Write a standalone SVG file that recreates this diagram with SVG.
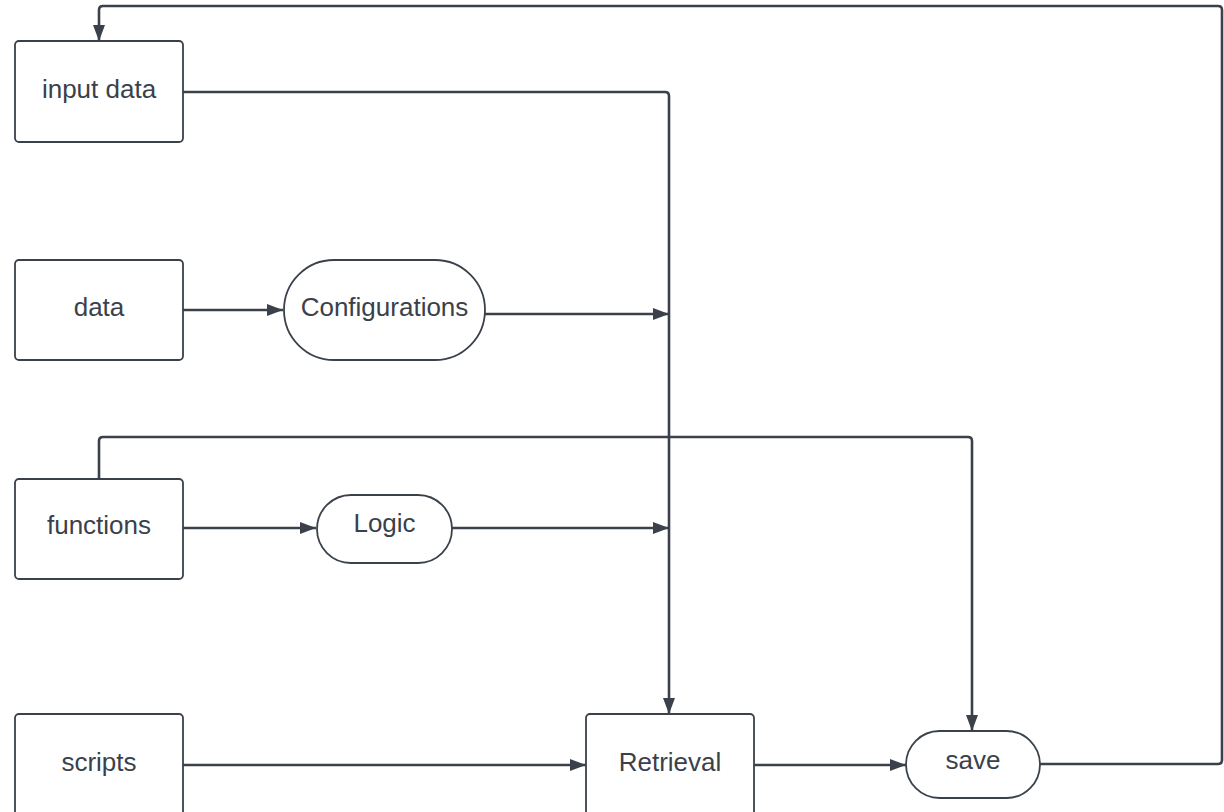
<svg xmlns="http://www.w3.org/2000/svg" width="1224" height="812" viewBox="0 0 1224 812">
<style>
.n{fill:#fff;stroke:#3a414a;stroke-width:1.8}
.t{font-family:"Liberation Sans",Arial,sans-serif;font-size:26px;fill:#3a414a;text-anchor:middle;dominant-baseline:central}
.c{fill:none;stroke:#3a414a;stroke-width:2.6;stroke-linejoin:round}
</style>
<defs>
<marker id="a" viewBox="0 0 16 12" refX="16" refY="6" markerWidth="16" markerHeight="12" markerUnits="userSpaceOnUse" orient="auto">
<path d="M0,0 L16,6 L0,12 Z" fill="#3a414a"/>
</marker>
</defs>
<rect width="1224" height="812" fill="#fff"/>
<g id="connectors">
<path class="c" d="M183,92 H665 Q669,92 669,96 V714" marker-end="url(#a)"/>
<path class="c" d="M183,310 H283" marker-end="url(#a)"/>
<path class="c" d="M485,314 H669" marker-end="url(#a)"/>
<path class="c" d="M183,528 H316" marker-end="url(#a)"/>
<path class="c" d="M452,528 H669" marker-end="url(#a)"/>
<path class="c" d="M99,479 V441 Q99,437 103,437 H968 Q972,437 972,441 V731" marker-end="url(#a)"/>
<path class="c" d="M183,765 H586" marker-end="url(#a)"/>
<path class="c" d="M754,765 H906" marker-end="url(#a)"/>
<path class="c" d="M1040,764 H1218 Q1222,764 1222,760 V10 Q1222,6 1218,6 H103 Q99,6 99,10 V41" marker-end="url(#a)"/>
</g>
<g id="input-data"><rect class="n" x="15" y="41" width="168" height="101" rx="4"/><text class="t" x="99" y="89">input data</text></g>
<g id="data"><rect class="n" x="15" y="260" width="168" height="100" rx="4"/><text class="t" x="99" y="307">data</text></g>
<g id="functions"><rect class="n" x="15" y="479" width="168" height="100" rx="4"/><text class="t" x="99" y="525">functions</text></g>
<g id="scripts"><rect class="n" x="15" y="714" width="168" height="110" rx="4"/><text class="t" x="99" y="762">scripts</text></g>
<g id="configurations"><rect class="n" x="284" y="260" width="201" height="100" rx="50"/><text class="t" x="384.5" y="307">Configurations</text></g>
<g id="logic"><rect class="n" x="317" y="495" width="135" height="68" rx="34"/><text class="t" x="384.5" y="523">Logic</text></g>
<g id="retrieval"><rect class="n" x="586" y="714" width="168" height="110" rx="4"/><text class="t" x="670" y="762">Retrieval</text></g>
<g id="save"><rect class="n" x="906" y="731" width="134" height="67" rx="33.5"/><text class="t" x="973" y="760">save</text></g>
</svg>
